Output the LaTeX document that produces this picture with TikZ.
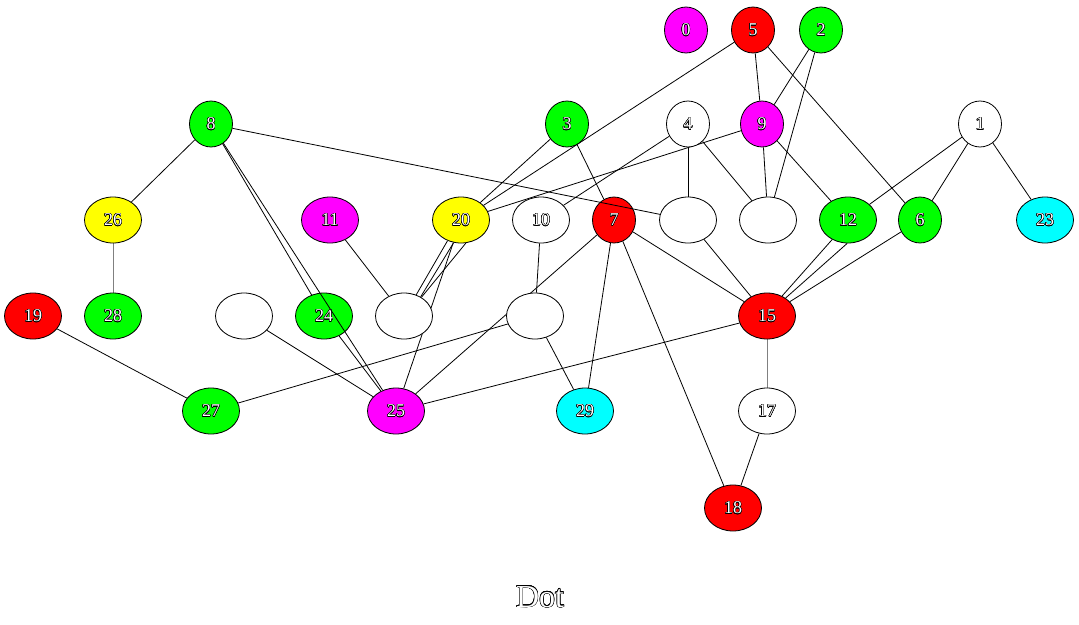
\documentclass[tikz,border=0pt]{standalone}
\usepackage{fontspec}
\setmainfont{Liberation Serif}
\usepackage[copies]{contour}
\usetikzlibrary{shapes.geometric}
\contourlength{0.35pt}
\contournumber{16}
\pgfdeclarelayer{bg}
\pgfsetlayers{bg,main}
\definecolor{gvmag}{RGB}{255,0,255}
\definecolor{gvcyan}{RGB}{0,255,255}
\definecolor{gvred}{RGB}{255,0,0}
\definecolor{gvgreen}{RGB}{0,255,0}
\definecolor{gvyellow}{RGB}{255,255,0}
\newcommand{\olab}[1]{\contour{black}{\textcolor{white}{#1}}}
\tikzset{
  gv/.style={ellipse, draw=black, line width=0.6pt, inner sep=0pt,
    minimum height=34.5pt, font=\fontsize{13.5}{14}\selectfont},
  sm/.style={gv, minimum width=32.25pt},
  wd/.style={gv, minimum width=42.75pt},
  edge/.style={draw=black, line width=0.6pt},
  vedge/.style={draw=gray, line width=0.6pt},
}
\begin{document}
\begin{tikzpicture}[x=0.75pt,y=-0.75pt]
\useasboundingbox (0,0) rectangle (1079,625);
% row 1
\node[sm,fill=gvmag] (n0) at (686,30) {\olab{0}};
\node[sm,fill=gvred] (n5) at (753,30) {\olab{5}};
\node[sm,fill=gvgreen] (n2) at (821,30) {\olab{2}};
% row 2
\node[sm,fill=gvgreen] (n8) at (211,124) {\olab{8}};
\node[sm,fill=gvgreen] (n3) at (567,124) {\olab{3}};
\node[sm,fill=white] (n4) at (688,124) {\olab{4}};
\node[sm,fill=gvmag] (n9) at (762,124) {\olab{9}};
\node[sm,fill=white] (n1) at (980,124) {\olab{1}};
% row 3
\node[wd,fill=gvyellow] (n26) at (113,220) {\olab{26}};
\node[wd,fill=gvmag] (n11) at (330,220) {\olab{11}};
\node[wd,fill=gvyellow] (n20) at (461,220) {\olab{20}};
\node[wd,fill=white] (n10) at (541,220) {\olab{10}};
\node[sm,fill=gvred] (n7) at (614,220) {\olab{7}};
\node[wd,fill=white] (eA) at (688,220) {};
\node[wd,fill=white] (eB) at (768,220) {};
\node[wd,fill=gvgreen] (n12) at (848,220) {\olab{12}};
\node[sm,fill=gvgreen] (n6) at (920,220) {\olab{6}};
\node[wd,fill=gvcyan] (n23) at (1045,220) {\olab{23}};
% row 4
\node[wd,fill=gvred] (n19) at (33,316) {\olab{19}};
\node[wd,fill=gvgreen] (n28) at (113,316) {\olab{28}};
\node[wd,fill=white] (eC) at (244,316) {};
\node[wd,fill=gvgreen] (n24) at (324,316) {\olab{24}};
\node[wd,fill=white] (eD) at (404,316) {};
\node[wd,fill=white] (eE) at (535,316) {};
\node[wd,fill=gvred] (n15) at (767,316) {\olab{15}};
% row 5
\node[wd,fill=gvgreen] (n27) at (211,411) {\olab{27}};
\node[wd,fill=gvmag] (n25) at (396,411) {\olab{25}};
\node[wd,fill=gvcyan] (n29) at (585,411) {\olab{29}};
\node[wd,fill=white] (n17) at (767,411) {\olab{17}};
% row 6
\node[wd,fill=gvred] (n18) at (733,508) {\olab{18}};
% title
\node (title) at (540,597) {\fontsize{24}{26}\selectfont\olab{Dot}};

\begin{pgfonlayer}{bg}
\draw[edge] (n8) -- (n26);
\draw[vedge] (n26) -- (n28);
\draw[edge] (n8) -- (n24);
\draw[edge] (n24) -- (n25);
\draw[edge] (n19) -- (n27);
\draw[edge] (n27) -- (eE);
\draw[edge] (eC) -- (n25);
\draw[edge] (n11) -- (eD);
\draw[edge] (n20.237) -- (eD.60);
\draw[edge] (n20.252) -- (eD.49);
\draw[edge] (n20.282) -- (eD.47);
\draw[edge] (n20) -- (n25);
\draw[edge] (n5) -- (n20);
\draw[edge] (n3) -- (n20);
\draw[edge] (n3) -- (n7);
\draw[edge] (n9) -- (n20);
\draw[edge] (n4) -- (n10);
\draw[edge] (n10) -- (eE);
\draw[edge] (n7) -- (n25);
\draw[edge] (n7) -- (n29);
\draw[edge] (n7) -- (n18);
\draw[edge] (n7) -- (n15);
\draw[edge] (eE) -- (n29);
\draw[edge] (n25) -- (n15);
\draw[edge] (n4) -- (eA);
\draw[edge] (n4) -- (eB);
\draw[edge] (n5) -- (n9);
\draw[edge] (n2) -- (n9);
\draw[edge] (n2) -- (eB);
\draw[edge] (n9) -- (eB);
\draw[edge] (n9) -- (n12);
\draw[edge] (n5) -- (n6);
\draw[edge] (eA) -- (n15);
\draw[edge] (n12.231) -- (n15.53);
\draw[edge] (n12.268) -- (n15.44);
\draw[edge] (n6) -- (n15);
\draw[edge] (n1) -- (n12);
\draw[edge] (n1) -- (n6);
\draw[edge] (n1) -- (n23);
\draw[vedge] (n15) -- (n17);
\draw[edge] (n17) -- (n18);
\end{pgfonlayer}
% edges drawn over nodes
\draw[edge] (n8) -- (eA);
\draw[edge] (n8) -- (n25);
\end{tikzpicture}
\end{document}
